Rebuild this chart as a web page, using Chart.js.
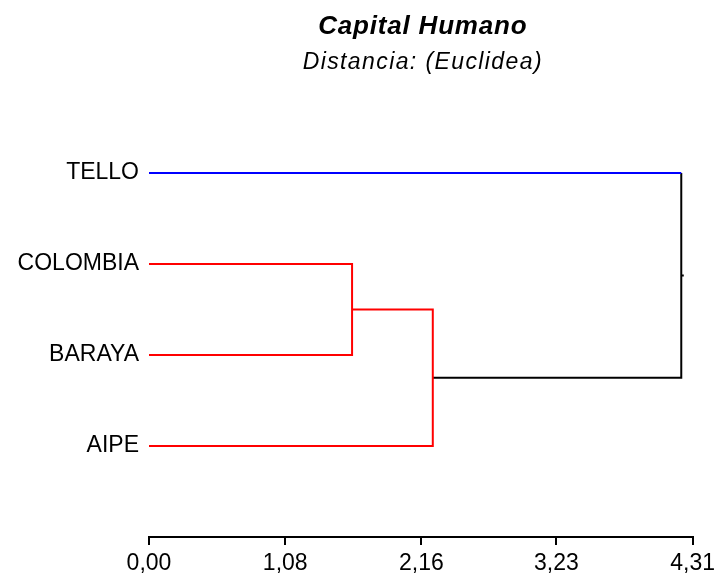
<!DOCTYPE html>
<html>
<head>
<meta charset="utf-8">
<title>Capital Humano</title>
<script src="https://cdn.jsdelivr.net/npm/chart.js@4/dist/chart.umd.min.js"></script>
<style>
  html, body { margin: 0; padding: 0; background: #ffffff; }
  #wrap { width: 720px; height: 575px; }
</style>
</head>
<body>
<div id="wrap"><canvas id="dendro" width="720" height="575"></canvas></div>
<script>
// Leaves, top to bottom
const categories = ['TELLO', 'COLOMBIA', 'BARAYA', 'AIPE'];
// Merge heights (Euclidean distance) of the agglomeration steps
const mergeColombiaBaraya = 1.61;
const mergeWithAipe = 2.25;
const mergeWithTello = 4.22;
// Distance axis ticks
const tickValues = [0, 1.08, 2.16, 3.23, 4.31];
const tickLabels = ['0,00', '1,08', '2,16', '3,23', '4,31'];

const TITLE = 'Capital Humano';
const SUBTITLE = 'Distancia: (Euclidea)';

// Leaf rows: first leaf on top
const leafY = {};
categories.forEach((c, i) => { leafY[c] = categories.length - i; });

const yC1 = (leafY['COLOMBIA'] + leafY['BARAYA']) / 2;
const yC2 = (yC1 + leafY['AIPE']) / 2;
const yRoot = (yC2 + leafY['TELLO']) / 2;

const RED = '#ff0000', BLUE = '#0000ff', BLACK = '#000000';

function seg(points, color) {
  return {
    data: points,
    borderColor: color,
    backgroundColor: color,
    borderWidth: 2,
    showLine: true,
    pointRadius: 0,
    pointHoverRadius: 0,
    fill: false,
    tension: 0
  };
}

const datasets = [
  // TELLO branch
  seg([{x: 0, y: leafY['TELLO']}, {x: mergeWithTello, y: leafY['TELLO']}], BLUE),
  // COLOMBIA + BARAYA
  seg([
    {x: 0, y: leafY['COLOMBIA']},
    {x: mergeColombiaBaraya, y: leafY['COLOMBIA']},
    {x: mergeColombiaBaraya, y: leafY['BARAYA']},
    {x: 0, y: leafY['BARAYA']}
  ], RED),
  // (COLOMBIA, BARAYA) + AIPE
  seg([
    {x: mergeColombiaBaraya, y: yC1},
    {x: mergeWithAipe, y: yC1},
    {x: mergeWithAipe, y: leafY['AIPE']},
    {x: 0, y: leafY['AIPE']}
  ], RED),
  // link to the root
  seg([
    {x: mergeWithAipe, y: yC2},
    {x: mergeWithTello, y: yC2},
    {x: mergeWithTello, y: leafY['TELLO']}
  ], BLACK),
  // root marker
  seg([{x: mergeWithTello, y: yRoot}, {x: mergeWithTello + 0.02, y: yRoot}], BLACK)
];

const FONT = '"Liberation Sans", Arial, sans-serif';

const titlePlugin = {
  id: 'titles',
  afterDraw(chart) {
    const ctx = chart.ctx;
    const a = chart.chartArea;
    const cx = (a.left + a.right) / 2 + 2;
    ctx.save();
    ctx.fillStyle = '#000';
    ctx.textAlign = 'center';
    ctx.textBaseline = 'alphabetic';
    ctx.font = 'italic bold 26px ' + FONT;
    ctx.letterSpacing = '0.8px';
    ctx.fillText(TITLE, cx, 34);
    ctx.font = 'italic 23px ' + FONT;
    ctx.letterSpacing = '1.4px';
    ctx.fillText(SUBTITLE, cx, 69);
    ctx.restore();
  }
};

new Chart(document.getElementById('dendro'), {
  type: 'scatter',
  data: { datasets },
  options: {
    responsive: false,
    animation: false,
    layout: { padding: { left: 0, right: 26, top: 82, bottom: 0 } },
    plugins: {
      legend: { display: false },
      tooltip: { enabled: false },
      title: { display: false }
    },
    scales: {
      x: {
        type: 'linear',
        min: 0,
        max: tickValues[tickValues.length - 1],
        afterBuildTicks(scale) {
          scale.ticks = tickValues.map(v => ({ value: v }));
        },
        afterFit(scale) { scale.height = 38; },
        ticks: {
          autoSkip: false,
          maxRotation: 0,
          padding: 5,
          color: '#000',
          font: { family: FONT, size: 23 },
          callback(value) {
            const i = tickValues.indexOf(value);
            return i >= 0 ? tickLabels[i] : '';
          }
        },
        grid: {
          display: true,
          drawOnChartArea: false,
          drawTicks: true,
          tickLength: 8,
          color: '#000',
          lineWidth: 2
        },
        border: { display: true, color: '#000', width: 2 }
      },
      y: {
        type: 'linear',
        min: 0,
        max: categories.length + 1,
        afterBuildTicks(scale) {
          scale.ticks = categories.map(c => ({ value: leafY[c] }));
        },
        afterFit(scale) { scale.width = 149; },
        ticks: {
          autoSkip: false,
          padding: 10,
          color: '#000',
          font: { family: FONT, size: 23 },
          callback(value) {
            const c = categories.find(k => leafY[k] === value);
            return c || '';
          }
        },
        grid: { display: false, drawTicks: false },
        border: { display: false }
      }
    }
  },
  plugins: [titlePlugin]
});
</script>
</body>
</html>
